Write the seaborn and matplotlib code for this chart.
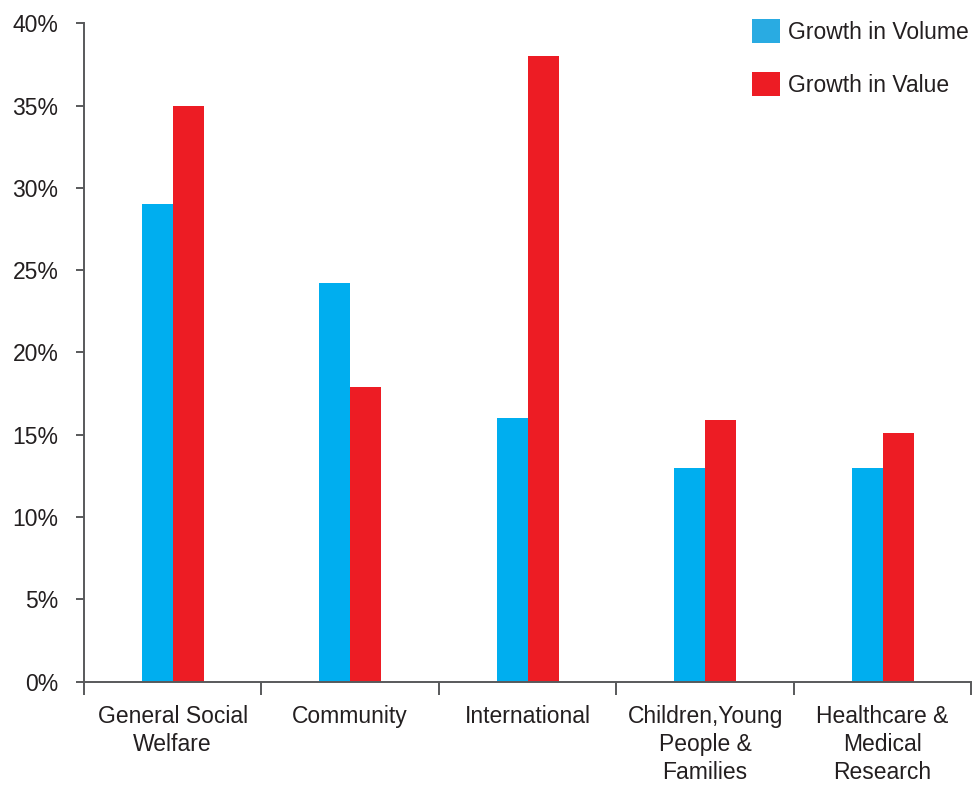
import matplotlib
matplotlib.use("Agg")
import matplotlib.pyplot as plt
from matplotlib.patches import Patch
from matplotlib.ticker import PercentFormatter, FixedLocator
import seaborn as sns
import pandas as pd

categories = ["General Social\nWelfare", "Community", "International",
              "Children,Young\nPeople &\nFamilies", "Healthcare &\nMedical\nResearch"]
growth_volume = [29.0, 24.2, 16.0, 13.0, 13.0]
growth_value = [35.0, 17.9, 38.0, 15.9, 15.1]
series_names = ["Growth in Volume", "Growth in Value"]
colors = ["#00AEEF", "#ED1C24"]
yticks = [0, 5, 10, 15, 20, 25, 30, 35, 40]

df = pd.DataFrame({
    "category": categories * 2,
    "growth": growth_volume + growth_value,
    "series": [series_names[0]] * len(categories) + [series_names[1]] * len(categories),
})

sns.set_theme(style="white")
plt.rcParams["font.family"] = ["Liberation Sans", "DejaVu Sans"]
text_color = "#231F20"
axis_color = "#58595B"
fs = 16.5

fig = plt.figure(figsize=(9.73, 7.85), dpi=100)
ax = fig.add_axes([0.0863, 0.1318, 0.912, 0.8385])

sns.barplot(data=df, x="category", y="growth", hue="series", order=categories,
            hue_order=series_names, palette=colors, width=0.35, saturation=1,
            linewidth=0, ax=ax, legend=False)

ax.set_xlim(-0.5, len(categories) - 0.5)
ax.set_ylim(0, 40)
ax.yaxis.set_major_locator(FixedLocator(yticks))
ax.yaxis.set_major_formatter(PercentFormatter(decimals=0))
ax.set_xlabel("")
ax.set_ylabel("")

for side in ["top", "right"]:
    ax.spines[side].set_visible(False)
for side in ["left", "bottom"]:
    ax.spines[side].set_color(axis_color)
    ax.spines[side].set_linewidth(1.4)

# category boundaries get the tick marks; labels sit between them
ax.set_xticks([i - 0.5 for i in range(len(categories) + 1)], minor=True)
ax.tick_params(axis="x", which="minor", bottom=True, length=9, width=1.4,
               color=axis_color, direction="out")
ax.tick_params(axis="x", which="major", bottom=False, length=0, pad=17,
               labelsize=fs, labelcolor=text_color)
ax.tick_params(axis="y", left=True, length=5.5, width=1.4, color=axis_color,
               direction="out", pad=13, labelsize=fs, labelcolor=text_color)
for lbl in ax.get_xticklabels():
    lbl.set_linespacing(1.28)
    lbl.set_verticalalignment("top")

handles = [Patch(facecolor=c, edgecolor="none") for c in ["#29ABE2", "#ED1C24"]]
fig.legend(handles, series_names, loc="upper left",
           bbox_to_anchor=(752 / 973, 1 - 19 / 785), frameon=False,
           fontsize=fs, handlelength=1.22, handleheight=1.22,
           handletextpad=0.35, labelspacing=1.25, borderpad=0, borderaxespad=0,
           labelcolor=text_color)

fig.savefig("out.png", dpi=100)
